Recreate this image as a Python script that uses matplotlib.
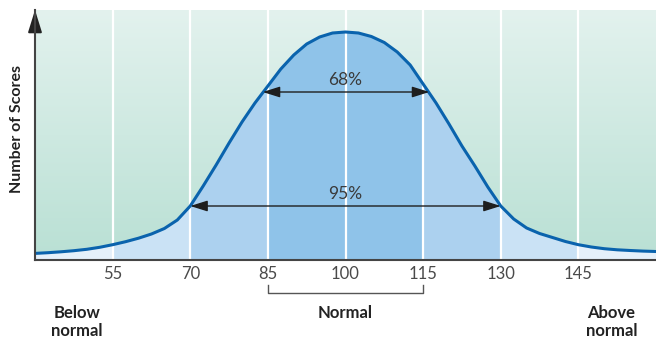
import numpy as np
import matplotlib
matplotlib.use('Agg')
import matplotlib.pyplot as plt
from matplotlib.colors import LinearSegmentedColormap

plt.rcParams['font.family'] = ['Lato', 'DejaVu Sans']

# curve (score, relative number of scores)
scores = [40, 42.5, 45, 47.5, 50, 52.5, 55, 57.5, 60, 62.5, 65, 67.5, 70,
          72.5, 75, 77.5, 80, 82.5, 85, 87.5, 90, 92.5, 95, 97.5, 100,
          102.5, 105, 107.5, 110, 112.5, 115, 117.5, 120, 122.5, 125, 127.5, 130,
          132.5, 135, 137.5, 140, 142.5, 145, 147.5, 150, 152.5, 155, 157.5, 160]
counts = [6.6, 7.3, 8.2, 9.3, 10.7, 12.7, 15.3, 18.3, 21.8, 26.0, 31.5, 40, 54,
          74, 95, 117, 138, 157, 174, 191, 205, 216, 223, 227, 228,
          227, 223.5, 217.5, 208, 195, 176, 157, 136, 114, 94, 73, 54,
          41, 32, 26.5, 22.5, 18.5, 15.3, 13, 11.3, 10.2, 9.5, 8.9, 8.5]
tick_scores = [55, 70, 85, 100, 115, 130, 145]

band_68 = (84.0, 116.2, 168)
band_95 = (70, 130, 54)

x = np.array(scores)
y = np.array(counts)

fig = plt.figure(figsize=(6.56, 3.4), dpi=100)
ax = fig.add_axes([35 / 656, 80 / 340, 621 / 656, 250 / 340])
ax.set_xlim(40, 160)
ax.set_ylim(0, 250)

# background gradient
bg = LinearSegmentedColormap.from_list('bg', ['#b9e0d4', '#e3f2ee'])
grad = np.linspace(0, 1, 256).reshape(-1, 1)
ax.imshow(grad, cmap=bg, aspect='auto', extent=[40, 160, 0, 250],
          origin='lower', zorder=0)

# shaded bands under the curve
bands = [((40, 55), '#e5f0fa'), ((145, 160), '#e5f0fa'),
         ((55, 70), '#cae2f5'), ((130, 145), '#cae2f5'),
         ((70, 85), '#acd1ef'), ((115, 130), '#acd1ef'),
         ((85, 115), '#8fc3e9')]
for (a, b), c in bands:
    m = (x >= a) & (x <= b)
    ax.fill_between(x[m], 0, y[m], color=c, lw=0, zorder=1)

for t in tick_scores:
    ax.axvline(t, color='white', lw=1.6, zorder=2)

ax.plot(x, y, color='#0a63ad', lw=2.2, zorder=3, solid_joinstyle='round',
        solid_capstyle='round')

# percentage arrows
for (a, b, h), lab in [(band_68, '68%'), (band_95, '95%')]:
    ax.annotate('', xy=(a, h), xytext=(b, h),
                arrowprops=dict(arrowstyle='<|-|>,head_length=0.7,head_width=0.22',
                                color='#1e1e1e', lw=1.0, mutation_scale=15,
                                shrinkA=0, shrinkB=0), zorder=4)
    ax.text(100, h + 12, lab, ha='center', va='center', fontsize=12.5,
            color='#3a3a3a', zorder=4)

# axes styling
for s in ['top', 'right']:
    ax.spines[s].set_visible(False)
for s in ['left', 'bottom']:
    ax.spines[s].set_color('#444444')
    ax.spines[s].set_linewidth(1.5)
    ax.spines[s].set_zorder(5)
ax.set_yticks([])
ax.set_xticks(tick_scores)
ax.tick_params(axis='x', direction='in', length=5, width=1.2, color='#555555',
               labelsize=12, labelcolor='#4a4a4a', pad=4)

# arrow head on the y axis
ax.annotate('', xy=(0, 1.0), xytext=(0, 0.94), xycoords='axes fraction',
            arrowprops=dict(arrowstyle='-|>,head_length=0.9,head_width=0.28',
                            color='#222222', lw=1.5, mutation_scale=15,
                            shrinkA=0, shrinkB=0), annotation_clip=False)

fig.text(17 / 656, 0.62, 'Number of Scores', rotation=90, ha='center',
         va='center', fontsize=11.5, fontweight='bold', color='#222222')

# bracket for the normal range
ax.plot([85, 85, 115, 115], [-25, -33, -33, -25], color='#555555', lw=1.0,
        clip_on=False)
ax.text(100, -53, 'Normal', ha='center', va='center', fontsize=12,
        fontweight='bold', color='#222222')
ax.text(48.1, -62, 'Below\nnormal', ha='center', va='center', fontsize=12,
        fontweight='bold', color='#222222', linespacing=1.2)
ax.text(151.4, -62, 'Above\nnormal', ha='center', va='center', fontsize=12,
        fontweight='bold', color='#222222', linespacing=1.2)

fig.savefig('out.png', dpi=100)
